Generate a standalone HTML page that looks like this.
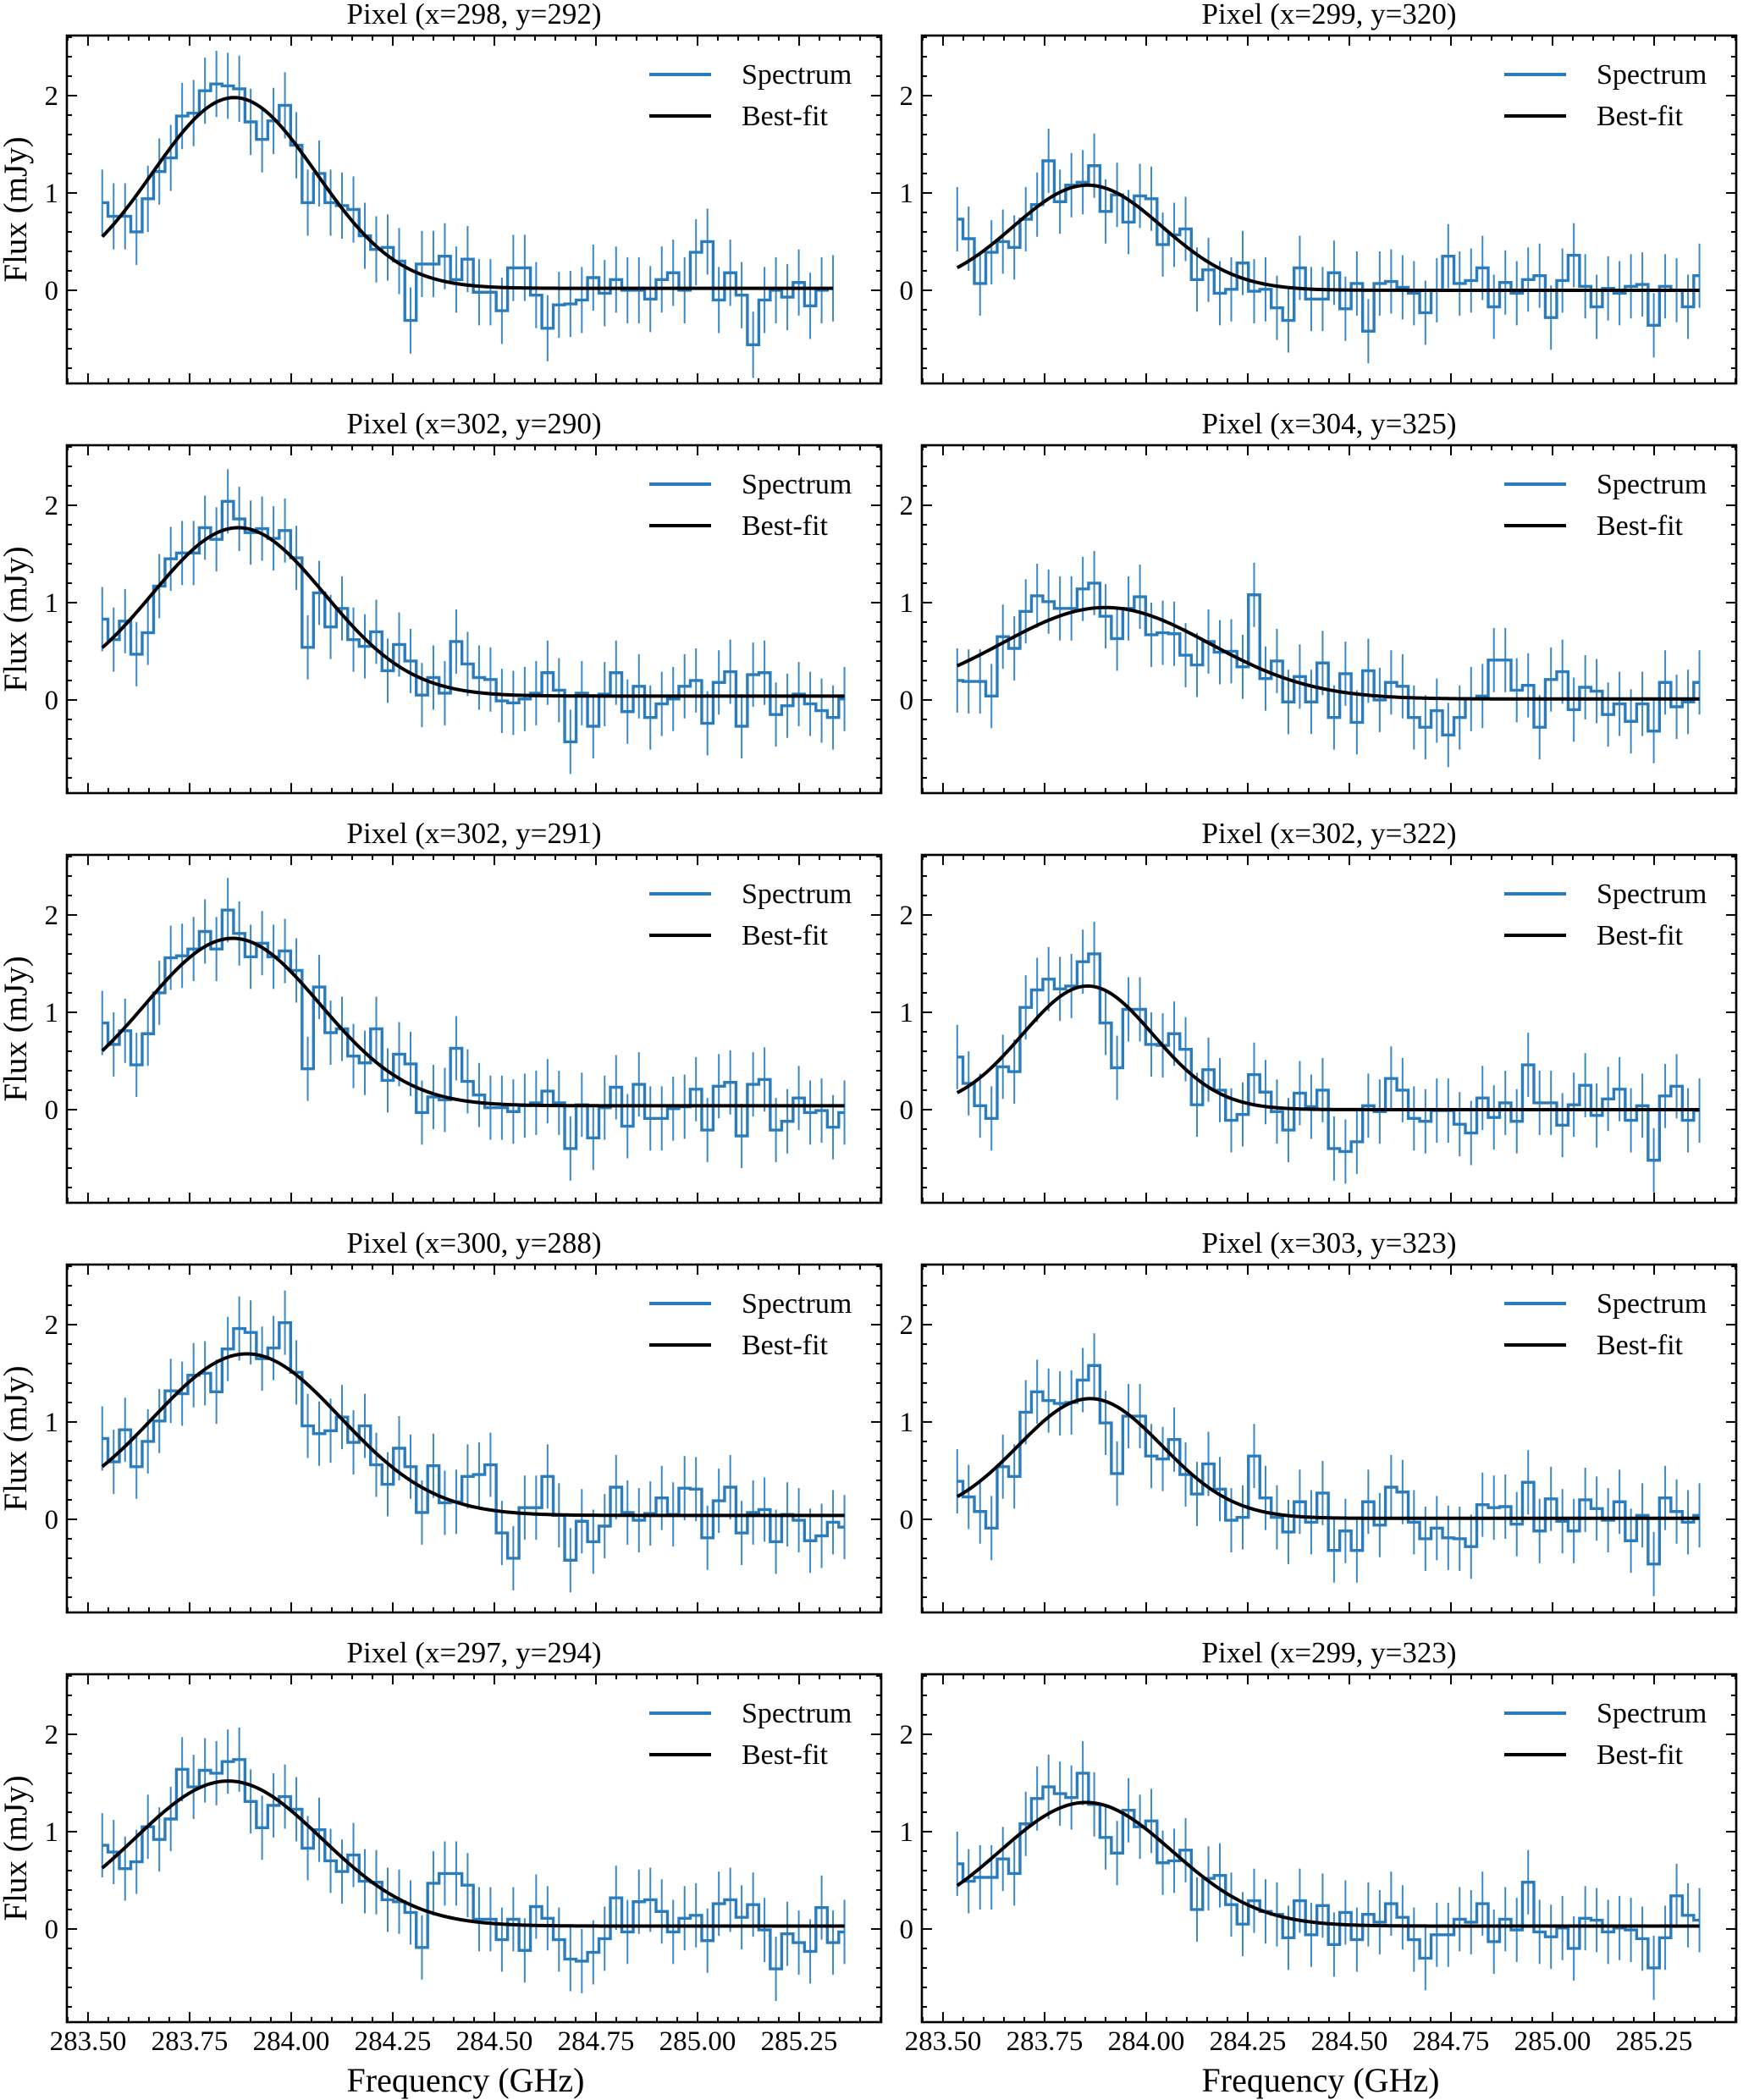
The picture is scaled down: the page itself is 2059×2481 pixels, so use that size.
<!DOCTYPE html>
<html><head><meta charset="utf-8"><style>
html,body{margin:0;padding:0;background:#fff;}
svg{display:block;font-family:"Liberation Serif",serif;}
</style></head><body>
<svg id="fig" width="2059" height="2481" viewBox="0 0 2059 2481" xmlns="http://www.w3.org/2000/svg"></svg>
<script>
const titles = ["Pixel (x=298, y=292)","Pixel (x=299, y=320)","Pixel (x=302, y=290)","Pixel (x=304, y=325)","Pixel (x=302, y=291)","Pixel (x=302, y=322)","Pixel (x=300, y=288)","Pixel (x=303, y=323)","Pixel (x=297, y=294)","Pixel (x=299, y=323)"];
const freqStart = 283.535;
const freqStep = 0.0281;
const xTicks = [283.50,283.75,284.00,284.25,284.50,284.75,285.00,285.25];
const xTickLabels = ["283.50","283.75","284.00","284.25","284.50","284.75","285.00","285.25"];
const yTicks = [0,1,2];
const yTickLabels = ["0","1","2"];
const s1 = [0.90,0.76,0.76,0.60,0.94,1.22,1.36,1.79,1.82,2.05,2.12,2.10,2.07,1.73,1.55,1.74,1.90,1.49,0.90,1.20,0.90,0.87,0.83,0.56,0.42,0.44,0.30,-0.31,0.27,0.27,0.35,0.11,0.32,-0.02,-0.02,-0.21,0.23,0.23,-0.05,-0.39,-0.15,-0.14,-0.10,0.13,-0.03,0.11,0.00,0.00,-0.09,0.11,0.18,0.00,0.39,0.50,-0.10,0.18,-0.05,-0.56,-0.10,0.00,-0.07,0.08,-0.16,0.00,0.02];
const s2 = [0.73,0.53,0.07,0.39,0.50,0.44,0.73,0.88,1.33,0.91,1.08,1.11,1.28,0.81,0.98,0.70,0.97,0.94,0.47,0.57,0.63,0.11,0.21,-0.03,0.01,0.28,-0.01,0.01,-0.18,-0.31,0.23,-0.09,-0.09,0.18,-0.19,0.07,-0.42,0.07,0.09,0.03,-0.03,-0.23,0.00,0.35,0.07,0.10,0.23,-0.17,0.08,-0.03,0.11,0.15,-0.28,0.10,0.36,0.04,-0.17,0.02,-0.03,0.04,0.06,-0.36,0.04,0.00,-0.17,0.15];
const s3 = [0.83,0.62,0.81,0.47,0.69,1.17,1.45,1.51,1.51,1.77,1.65,2.04,1.86,1.72,1.76,1.66,1.74,1.46,0.54,1.10,0.75,0.94,0.62,0.55,0.70,0.30,0.57,0.40,0.05,0.23,0.07,0.60,0.37,0.23,0.21,-0.01,-0.03,0.01,0.07,0.28,0.10,-0.43,0.07,-0.27,0.06,0.28,-0.12,0.14,-0.18,-0.04,0.01,0.14,0.20,-0.24,0.18,0.29,-0.27,0.26,0.28,-0.15,-0.06,0.06,-0.04,-0.11,-0.18,0.01];
const s4 = [0.20,0.19,0.19,0.04,0.65,0.53,0.91,1.07,1.01,0.94,0.94,1.14,1.20,0.86,0.63,0.94,1.06,0.67,0.69,0.68,0.46,0.36,0.60,0.49,0.50,0.34,1.08,0.22,0.40,-0.02,0.24,-0.02,0.38,-0.18,0.27,-0.23,0.30,0.00,0.18,0.14,-0.18,-0.28,-0.11,-0.36,-0.18,0.01,0.04,0.41,0.41,0.10,0.15,-0.28,0.21,0.29,-0.10,0.13,0.09,-0.15,-0.04,-0.22,-0.04,-0.32,0.18,-0.07,-0.02,0.18];
const s5 = [0.89,0.67,0.81,0.46,0.78,1.20,1.56,1.58,1.65,1.83,1.65,2.05,1.81,1.57,1.71,1.57,1.63,1.43,0.42,1.26,0.79,0.83,0.55,0.48,0.83,0.30,0.57,0.47,-0.03,0.13,0.10,0.63,0.29,0.15,0.02,0.02,-0.02,0.04,0.07,0.19,0.07,-0.40,0.05,-0.29,0.02,0.23,-0.17,0.26,-0.09,-0.09,0.01,0.03,0.21,-0.21,0.24,0.28,-0.27,0.26,0.31,-0.21,-0.12,0.12,-0.03,-0.01,-0.18,-0.03];
const s6 = [0.54,0.27,0.04,-0.09,0.44,0.39,1.05,1.23,1.34,1.24,1.27,1.52,1.60,0.89,0.43,1.03,1.03,0.67,0.66,0.78,0.62,0.05,0.41,0.20,-0.11,-0.05,0.36,0.18,-0.02,-0.21,0.17,0.03,0.20,-0.40,-0.43,-0.33,0.04,-0.02,0.32,0.20,-0.09,-0.12,-0.01,-0.01,-0.15,-0.24,0.12,-0.08,0.07,-0.12,0.46,0.07,0.07,-0.16,0.05,0.25,-0.06,0.11,0.21,-0.11,0.04,-0.52,0.14,0.24,-0.11,-0.01];
const s7 = [0.83,0.59,0.92,0.54,0.80,1.01,1.32,1.29,1.48,1.50,1.31,1.75,1.96,1.92,1.65,1.76,2.02,1.51,0.96,0.88,0.91,1.05,0.79,0.96,0.56,0.36,0.73,0.54,0.07,0.55,0.17,0.18,0.44,0.46,0.56,-0.14,-0.40,0.12,0.12,0.44,0.04,-0.42,-0.02,-0.23,-0.07,0.33,0.07,-0.01,0.06,0.22,0.05,0.32,0.31,-0.19,0.19,0.33,-0.14,0.07,0.10,-0.23,0.05,-0.01,-0.22,-0.17,-0.03,-0.08];
const s8 = [0.39,0.23,0.08,-0.09,0.54,0.44,1.10,1.31,1.22,1.19,1.20,1.43,1.58,0.99,0.47,1.06,1.06,0.65,0.62,0.82,0.46,0.26,0.57,0.31,-0.01,0.02,0.65,0.22,0.02,-0.13,0.18,-0.03,0.27,-0.32,-0.12,-0.32,0.18,-0.06,0.33,0.28,-0.03,-0.20,-0.09,-0.19,-0.20,-0.28,0.15,0.12,0.13,-0.05,0.38,-0.12,0.21,-0.02,-0.12,0.20,0.11,-0.01,0.18,-0.22,0.04,-0.46,0.22,0.08,-0.03,0.04];
const s9 = [0.86,0.79,0.62,0.69,1.05,0.92,1.13,1.64,1.46,1.63,1.60,1.72,1.74,1.31,1.04,1.27,1.36,1.23,0.83,1.02,0.70,0.59,0.76,0.49,0.48,0.30,0.28,0.17,-0.19,0.47,0.57,0.57,0.45,0.10,0.10,-0.11,0.10,-0.22,0.23,0.11,-0.11,-0.31,-0.33,-0.24,-0.10,0.32,-0.03,0.28,0.30,0.18,-0.03,0.11,0.14,-0.12,0.26,0.30,0.12,0.25,-0.01,-0.41,-0.05,-0.14,-0.23,0.22,-0.14,-0.03];
const s10 = [0.67,0.49,0.53,0.53,0.72,0.57,1.08,1.34,1.46,1.39,1.35,1.60,1.28,0.94,0.78,1.22,1.05,1.11,0.68,0.70,0.81,0.20,0.52,0.55,0.25,0.05,0.29,0.18,0.15,-0.09,0.29,-0.06,0.24,-0.16,0.17,-0.11,0.15,0.07,0.26,0.12,-0.11,-0.30,-0.06,-0.06,0.10,0.07,0.26,-0.13,0.10,-0.01,0.48,-0.03,-0.08,0.01,-0.20,0.11,0.09,-0.03,0.01,-0.01,-0.10,-0.40,-0.09,0.34,0.14,0.09];
const spectra = [s1,s2,s3,s4,s5,s6,s7,s8,s9,s10];
const errs = [0.34,0.33,0.33,0.33,0.33,0.33,0.33,0.33,0.33,0.33];
const fitAmp = [1.96,1.08,1.73,0.94,1.72,1.27,1.66,1.23,1.49,1.27];
const fitCen = [283.86,283.856,283.87,283.90,283.856,283.856,283.891,283.862,283.845,283.852];
const fitSig = [0.201,0.183,0.212,0.256,0.215,0.161,0.23,0.177,0.229,0.212];
const fitBase = [0.02,0.0,0.04,0.01,0.04,0.0,0.04,0.01,0.03,0.03];

const NS = "http://www.w3.org/2000/svg";
const svg = document.getElementById('fig');
function mk(tag, attrs, parent){const e=document.createElementNS(NS,tag);for(const k in attrs)e.setAttribute(k,attrs[k]);(parent||svg).appendChild(e);return e;}
const PW=962, PH=411, XMIN=283.448, XMAX=285.452, YMIN=-0.957, YMAX=2.617;
const BLUE="#2a7cbd";

for(let p=0;p<10;p++){
  const col=p%2, row=Math.floor(p/2);
  const L=col?1089:79, T=42+484*row;
  const sx=f=>L+(f-XMIN)/(XMAX-XMIN)*PW;
  const sy=v=>T+(YMAX-v)/(YMAX-YMIN)*PH;
  const g=mk('g',{});
  
  
  const tt=mk('text',{x:L+PW/2,y:T-14,'text-anchor':'middle','font-size':'35'},g);
  tt.textContent=titles[p];
  
  
  const data=spectra[p];
  const xs=data.map((_,i)=>freqStart+i*freqStep);
  const eg=mk('g',{stroke:"#3a88c6",'stroke-width':'2'},g);
  
  
  data.forEach((v,i)=>{
    const l=mk('line',{x1:sx(xs[i]),x2:sx(xs[i]),y1:sy(v-errs[p]),y2:sy(v+errs[p])},eg);
    
    
  });
  let d='M'+sx(xs[0])+','+sy(data[0]);
  for(let i=0;i<data.length;i++){
    const xl=i===0?xs[0]:(xs[i-1]+xs[i])/2;
    const xr=i===data.length-1?xs[i]:(xs[i]+xs[i+1])/2;
    d+=' L'+sx(xl)+','+sy(data[i])+' L'+sx(xr)+','+sy(data[i]);
  }
  const st=mk('path',{d:d,fill:'none',stroke:BLUE,'stroke-width':'3.4'},g);
  
  
  let fd='';
  const n=300;
  for(let k=0;k<=n;k++){
    const f=xs[0]+(xs[xs.length-1]-xs[0])*k/n;
    const v=fitBase[p]+fitAmp[p]*Math.exp(-Math.pow(f-fitCen[p],2)/(2*fitSig[p]*fitSig[p]));
    fd+=(k?' L':'M')+sx(f).toFixed(2)+','+sy(v).toFixed(2);
  }
  const ft=mk('path',{d:fd,fill:'none',stroke:'#000','stroke-width':'4'},g);
  
  
  const fr=mk('rect',{x:L,y:T,width:PW,height:PH,fill:'none',stroke:'#000','stroke-width':'2.6'},g);
  
  
  const tg=mk('g',{stroke:'#000','stroke-width':'2'},g);
  
  
  for(let m=0;m<=40;m++){
    const f=283.45+m*0.05; if(f<XMIN||f>XMAX) continue;
    const major=Math.abs(((f-283.5)/0.25)-Math.round((f-283.5)/0.25))<1e-6;
    const len=major?12:6, x=sx(f);
    mk('line',{x1:x,x2:x,y1:T+PH,y2:T+PH-len},tg);
    mk('line',{x1:x,x2:x,y1:T,y2:T+len},tg);
  }
  for(let m=-4;m<=13;m++){
    const v=m*0.2; if(v<YMIN||v>YMAX) continue;
    const major=m%5===0, len=major?12:6, y=sy(v);
    mk('line',{x1:L,x2:L+len,y1:y,y2:y},tg);
    mk('line',{x1:L+PW,x2:L+PW-len,y1:y,y2:y},tg);
  }
  yTicks.forEach((v,i)=>{
    const t=mk('text',{x:L-10,y:sy(v)+11,'text-anchor':'end','font-size':'33'},g);
    t.textContent=yTickLabels[i];
    
    
  });
  if(col===0){
    const yl=mk('text',{x:0,y:0,'text-anchor':'middle','font-size':'39',transform:`translate(31,${T+PH/2}) rotate(-90)`},g);
    yl.textContent='Flux (mJy)';
    
    
  }
  if(row===4){
    xTicks.forEach((f,i)=>{
      const t=mk('text',{x:sx(f),y:T+PH+33,'text-anchor':'middle','font-size':'33'},g);
      t.textContent=xTickLabels[i];
      
      
    });
    const xl=mk('text',{x:L+PW/2-10,y:T+PH+82,'text-anchor':'middle','font-size':'40'},g);
    xl.textContent='Frequency (GHz)';
    
    
  }
  const lg=mk('g',{},g);
  
  
  const lx=L+688;
  const l1=mk('line',{x1:lx,x2:lx+73,y1:T+46,y2:T+46,stroke:BLUE,'stroke-width':'4'},lg);
  
  
  const t1=mk('text',{x:L+797,y:T+57,'font-size':'34'},lg);
  t1.textContent='Spectrum';
  
  
  const l2=mk('line',{x1:lx,x2:lx+73,y1:T+95,y2:T+95,stroke:'#000','stroke-width':'4'},lg);
  
  
  const t2=mk('text',{x:L+797,y:T+106,'font-size':'34'},lg);
  t2.textContent='Best-fit';
  
  
}
</script>
</body></html>
